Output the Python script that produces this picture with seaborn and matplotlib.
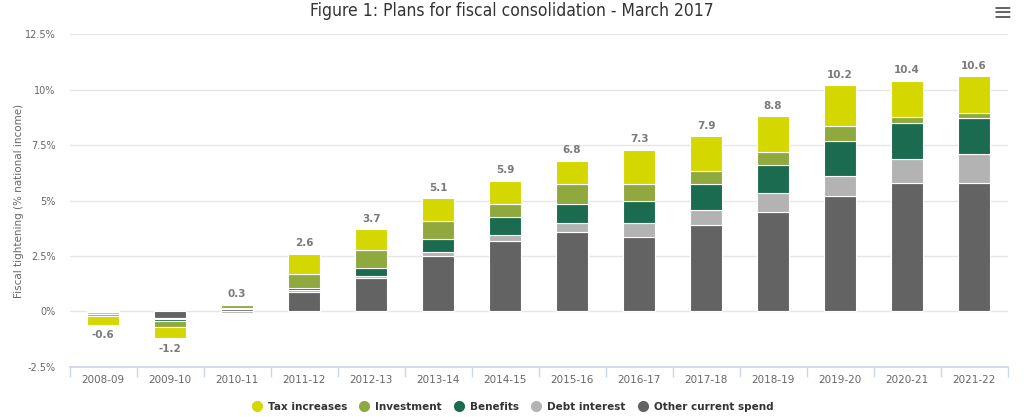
import numpy as np
import matplotlib
matplotlib.use("Agg")
import matplotlib.pyplot as plt
from matplotlib.lines import Line2D
import seaborn as sns

# Dados
anos = ['2008-09', '2009-10', '2010-11', '2011-12', '2012-13', '2013-14', '2014-15',
        '2015-16', '2016-17', '2017-18', '2018-19', '2019-20', '2020-21', '2021-22']
other_current = [-0.02, -0.28, 0.12, 0.90, 1.50, 2.50, 3.20, 3.60, 3.38, 3.88, 4.48, 5.20, 5.80, 5.80]
debt_interest = [-0.08, -0.07, -0.06, 0.07, 0.10, 0.20, 0.27, 0.40, 0.62, 0.70, 0.85, 0.90, 1.08, 1.30]
benefits = [-0.03, -0.10, 0.03, 0.07, 0.38, 0.58, 0.78, 0.85, 0.97, 1.18, 1.28, 1.58, 1.63, 1.60]
investment = [-0.07, -0.25, 0.15, 0.65, 0.80, 0.80, 0.58, 0.90, 0.78, 0.57, 0.60, 0.70, 0.25, 0.27]
tax_increases = [-0.40, -0.50, 0.00, 0.90, 0.92, 1.02, 1.07, 1.05, 1.55, 1.57, 1.59, 1.82, 1.64, 1.63]
totais = [-0.6, -1.2, 0.3, 2.6, 3.7, 5.1, 5.9, 6.8, 7.3, 7.9, 8.8, 10.2, 10.4, 10.6]

yticks = [-2.5, 0, 2.5, 5, 7.5, 10, 12.5]
ytick_labels = ['-2.5%', '0%', '2.5%', '5%', '7.5%', '10%', '12.5%']

# séries de baixo para cima
series = [
    ('Other current spend', other_current, '#636363'),
    ('Debt interest', debt_interest, '#b3b3b3'),
    ('Benefits', benefits, '#1b6b50'),
    ('Investment', investment, '#8fa93f'),
    ('Tax increases', tax_increases, '#d4d700'),
]

sns.set_theme(style='white')
plt.rcParams['font.family'] = ['DejaVu Sans']

fig = plt.figure(figsize=(10.24, 4.17), dpi=100)
ax = fig.add_axes([0.068, 0.12, 0.916, 0.798])

base_pos = np.zeros(len(anos))
base_neg = np.zeros(len(anos))
for nome, vals, cor in series:
    v = np.array(vals)
    bottom = np.where(v >= 0, base_pos, base_neg)
    sns.barplot(x=anos, y=v, bottom=bottom, color=cor, saturation=1, width=0.47,
                edgecolor='white', linewidth=0.8, ax=ax, zorder=3)
    base_pos = base_pos + np.where(v >= 0, v, 0)
    base_neg = base_neg + np.where(v < 0, v, 0)

# rótulos de total
for i, t in enumerate(totais):
    if t >= 0:
        ax.annotate(f'{t:.1f}', (i, base_pos[i]), xytext=(0, 4), textcoords='offset points',
                    ha='center', va='bottom', fontsize=7.5, fontweight='bold', color='#7a7a7a')
    else:
        ax.annotate(f'{t:.1f}', (i, base_neg[i]), xytext=(0, -4), textcoords='offset points',
                    ha='center', va='top', fontsize=7.5, fontweight='bold', color='#7a7a7a')

ax.set_xlim(-0.5, len(anos) - 0.5)
ax.set_ylim(-2.5, 12.5)
ax.set_yticks(yticks)
ax.set_yticklabels(ytick_labels)
ax.yaxis.grid(True, color='#e6e6e6', linewidth=1, zorder=0)
ax.set_axisbelow(True)
for s in ['left', 'top', 'right']:
    ax.spines[s].set_visible(False)
ax.spines['bottom'].set_color('#ccd6eb')
ax.spines['bottom'].set_zorder(4)
ax.set_xticks(np.arange(len(anos) + 1) - 0.5, minor=True)
ax.tick_params(axis='x', which='minor', length=7, color='#ccd6eb', direction='out', bottom=True)
ax.tick_params(axis='x', which='major', length=0, labelsize=7.5, labelcolor='#666666', pad=6)
ax.tick_params(axis='y', length=0, labelsize=7, labelcolor='#666666', pad=10)
ax.set_xlabel('')
ax.set_ylabel('Fiscal tightening (% national income)', fontsize=7.5, color='#666666', labelpad=1)

fig.text(0.5, 0.974, 'Figure 1: Plans for fiscal consolidation - March 2017',
         ha='center', va='center', fontsize=12.5, color='#333333', stretch='condensed',
         family=['Liberation Sans Narrow', 'DejaVu Sans'])
fig.text(0.979, 0.97, '≡', ha='center', va='center', fontsize=17, color='#666666')

# legenda
handles = [Line2D([], [], marker='o', linestyle='none', markersize=7, color=c, label=n)
           for n, _, c in reversed(series)]
fig.legend(handles=handles, loc='center', bbox_to_anchor=(0.5, 0.025), ncol=5, frameon=False,
           handletextpad=0.45, columnspacing=1.05, handlelength=1.2,
           prop={'size': 7.5, 'weight': 'semibold'}, labelcolor='#333333')

fig.savefig('out.png', dpi=100)
